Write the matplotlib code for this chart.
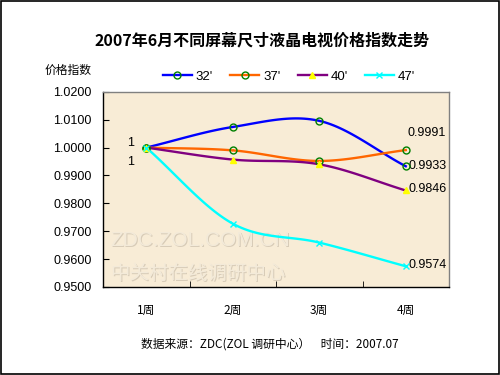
import numpy as np
import matplotlib
matplotlib.use("Agg")
import matplotlib.pyplot as plt
from matplotlib.patches import Rectangle

plt.rcParams['font.family'] = ['Noto Sans CJK SC', 'DejaVu Sans']
NUMF = 'Liberation Sans'

weeks = ['1周', '2周', '3周', '4周']
s32 = [1.0000, 1.0074, 1.0096, 0.9933]
s37 = [1.0000, 0.9990, 0.9952, 0.9991]
s40 = [1.0000, 0.9957, 0.9940, 0.9846]
s47 = [1.0000, 0.9727, 0.9659, 0.9574]
series_names = ["32'", "37'", "40'", "47'"]
yticks = [0.95, 0.96, 0.97, 0.98, 0.99, 1.00, 1.01, 1.02]


def smooth(x, y, n=30):
    x = np.asarray(x, float); y = np.asarray(y, float)
    px = np.concatenate([[2*x[0]-x[1]], x, [2*x[-1]-x[-2]]])
    py = np.concatenate([[2*y[0]-y[1]], y, [2*y[-1]-y[-2]]])
    xs, ys = [], []
    for i in range(1, len(px)-2):
        t = np.linspace(0, 1, n)
        for arr, out in ((px, xs), (py, ys)):
            p0, p1, p2, p3 = arr[i-1], arr[i], arr[i+1], arr[i+2]
            out.extend(0.5*((2*p1) + (-p0+p2)*t + (2*p0-5*p1+4*p2-p3)*t**2 + (-p0+3*p1-3*p2+p3)*t**3))
    return np.array(xs), np.array(ys)


fig = plt.figure(figsize=(5, 3.75), dpi=100)
fig.patch.set_facecolor('white')
fig.add_artist(Rectangle((0.002, 0.003), 0.996, 0.994, transform=fig.transFigure,
                         fill=False, edgecolor='black', linewidth=1.2))

ax = fig.add_axes([0.206, 0.235, 0.692, 0.52])
ax.set_facecolor('#f8ecd6')
x = np.arange(len(weeks))

# watermark (embossed look)
for dx, dy, c in ((0.003, -0.006, '#d8ccb8'), (0, 0, '#f3ead9')):
    ax.text(0.02 + dx, 0.21 + dy, 'ZDC.ZOL.COM.CN', transform=ax.transAxes, fontsize=15,
            color=c, family=NUMF, zorder=1)
    ax.text(0.02 + dx, 0.04 + dy, '中关村在线调研中心', transform=ax.transAxes, fontsize=14,
            color=c, zorder=1)

styles = [
    (s32, '#0000ff', 'o', dict(markerfacecolor='none', markeredgecolor='#008000', markersize=5)),
    (s37, '#ff6600', 'o', dict(markerfacecolor='none', markeredgecolor='#008000', markersize=5)),
    (s40, '#800080', '^', dict(markerfacecolor='#ffff00', markeredgecolor='#ffff00', markersize=5)),
    (s47, '#00ffff', 'x', dict(markeredgecolor='#00ffff', markersize=5)),
]
for (vals, col, mk, mkw), name in zip(styles, series_names):
    sx, sy = smooth(x, vals)
    ax.plot(sx, sy, color=col, linewidth=1.7, zorder=3)
    ax.plot(x, vals, linestyle='none', marker=mk, zorder=4, **mkw)
    ax.plot([], [], color=col, linewidth=1.7, marker=mk, label=name, **mkw)

ax.set_xlim(-0.5, 3.5)
ax.set_ylim(0.95, 1.02)
ax.set_yticks(yticks)
ax.set_yticklabels([f'{v:.4f}' for v in yticks], family=NUMF, fontsize=9)
ax.set_xticks(x)
ax.set_xticklabels(weeks, fontsize=8.5)
ax.set_xticks([0.5, 1.5, 2.5], minor=True)
ax.tick_params(axis='x', which='major', length=0, pad=12)
ax.tick_params(axis='x', which='minor', direction='in', length=4)
ax.tick_params(axis='y', direction='in', length=4, pad=8)
for sp in ['left', 'bottom']:
    ax.spines[sp].set_color('black'); ax.spines[sp].set_linewidth(1)
for sp in ['top', 'right']:
    ax.spines[sp].set_color('#808080'); ax.spines[sp].set_linewidth(1)

# data labels
kw = dict(fontsize=9, va='center', family=NUMF)
ax.text(-0.18, s32[0] + 0.0017, '1', ha='center', **kw)
ax.text(-0.18, s40[0] - 0.0053, '1', ha='center', **kw)
ax.text(3.02, s37[3] + 0.0062, '0.9991', ha='left', **kw)
ax.text(3.03, s32[3], '0.9933', ha='left', **kw)
ax.text(3.03, s40[3] + 0.0005, '0.9846', ha='left', **kw)
ax.text(3.03, s47[3] + 0.0005, '0.9574', ha='left', **kw)

leg = fig.legend(loc='center', bbox_to_anchor=(0.578, 0.795), ncol=4, frameon=False,
                 handlelength=2.2, columnspacing=1.3, handletextpad=0.3,
                 prop={'family': NUMF, 'size': 9.5})

fig.text(0.525, 0.893, '2007年6月不同屏幕尺寸液晶电视价格指数走势', ha='center', va='center',
         fontsize=11.5, fontweight='bold')
fig.text(0.136, 0.812, '价格指数', ha='center', va='center', fontsize=8.5)
fig.text(0.54, 0.083, '数据来源：ZDC(ZOL 调研中心）    时间：2007.07', ha='center', va='center',
         fontsize=8.5, family=['Noto Sans CJK SC'])

fig.savefig('out.png', dpi=100, facecolor='white')
